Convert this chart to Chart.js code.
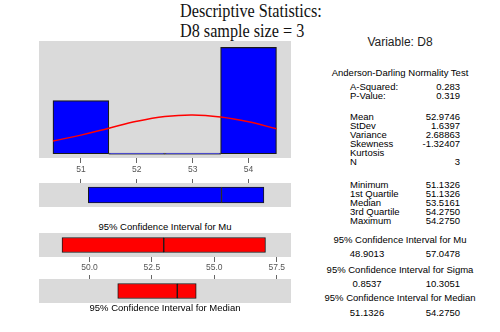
<!DOCTYPE html>
<html>
<head>
<meta charset="utf-8">
<script src="https://cdn.jsdelivr.net/npm/chart.js@4"></script>
<style>
  body { margin: 0; background: #fff; }
  #wrap { position: relative; width: 500px; height: 332px; overflow: hidden; font-family: "Liberation Sans", Arial, sans-serif; color: #000; }
  #wrap canvas { position: absolute; }
  .t { position: absolute; white-space: nowrap; font-size: 9.5px; line-height: 10px; }
  .title { position: absolute; left: 180px; font-family: "Liberation Serif", "Times New Roman", serif; font-size: 18px; line-height: 20px; color: #111; transform: scaleX(0.9); transform-origin: left top; white-space: nowrap; }
</style>
</head>
<body>
<div id="wrap">
  <div class="title" style="top:1px">Descriptive Statistics:</div>
  <div class="title" style="top:21px">D8 sample size = 3</div>
  <div class="t" style="left:340px;width:120px;top:35px;font-size:12px;line-height:14px;text-align:center;color:#222">Variable: D8</div>

  <canvas id="hist" width="252" height="138" style="left:39px;top:41px"></canvas>
  <canvas id="boxMu" width="252" height="28" style="left:39px;top:179px"></canvas>
  <div class="t" style="left:85px;width:160px;top:222px;text-align:center">95% Confidence Interval for Mu</div>
  <canvas id="ciMu" width="252" height="39" style="left:39px;top:233px"></canvas>
  <canvas id="ciMed" width="252" height="28" style="left:39px;top:275px"></canvas>
  <div class="t" style="left:85px;width:160px;top:303px;text-align:center">95% Confidence Interval for Median</div>

  <div id="stats"></div>
</div>
<script>
// histogram of D8 (bin centres and counts)
const histBins = [51, 52, 53, 54];
const histCounts = [1, 0, 0, 2];
const histTicks = [51, 52, 53, 54];

// fitted normal curve (in counts)
const curveX = [50.5, 51, 51.5, 52, 52.5, 53, 53.5, 54, 54.5];
const curveY = [0.24, 0.35, 0.48, 0.61, 0.70, 0.73, 0.69, 0.60, 0.47];

// boxes: [low, middle, high]
const quartiles = [51.1326, 53.5161, 54.2750];
const muCI = [48.9013, 52.9746, 57.0478];
const medianCI = [51.1326, 53.5161, 54.2750];
const sigmaCI = [0.8537, 10.3051];
const ciTicks = [50.0, 52.5, 55.0, 57.5];

// text table on the right
const adLabels = ['A-Squared:', 'P-Value:'];
const adValues = ['0.283', '0.319'];
const momentLabels = ['Mean', 'StDev', 'Variance', 'Skewness', 'Kurtosis', 'N'];
const momentValues = ['52.9746', '1.6397', '2.68863', '-1.32407', '', '3'];
const orderLabels = ['Minimum', '1st Quartile', 'Median', '3rd Quartile', 'Maximum'];
const orderValues = ['51.1326', '51.1326', '53.5161', '54.2750', '54.2750'];

const PANEL = '#dadada';
const TICK = '#666';

const panelBg = {
    id: 'panelBg',
    beforeDraw(chart) {
        const { ctx, chartArea: a } = chart;
        ctx.save();
        ctx.fillStyle = PANEL;
        ctx.fillRect(a.left, a.top, a.width, a.height);
        ctx.restore();
    }
};

function xAxis(min, max, tickVals, opts) {
    return {
        type: 'linear',
        position: opts.position,
        min, max,
        offset: false,
        afterBuildTicks: s => { s.ticks = tickVals.map(v => ({ value: v })); },
        afterFit: s => { s.height = opts.height; },
        ticks: {
            display: opts.labels,
            color: '#555',
            padding: opts.padding || 0,
            font: { size: 8.5, family: 'Liberation Sans, Arial, sans-serif' },
            callback: opts.fmt || (v => v)
        },
        grid: { offset: false, drawOnChartArea: false, drawTicks: true, tickLength: opts.tick, color: TICK },
        border: { display: false }
    };
}

const base = {
    responsive: false,
    animation: false,
    devicePixelRatio: 1,
    layout: { padding: 0 },
    plugins: { legend: { display: false }, tooltip: { enabled: false } }
};

// histogram + normal curve
new Chart(document.getElementById('hist'), {
    type: 'bar',
    data: {
        datasets: [
            {
                type: 'line',
                data: curveX.map((x, i) => ({ x, y: curveY[i] })),
                borderColor: '#ff0000',
                borderWidth: 1.5,
                pointRadius: 0,
                tension: 0.4,
                order: 0
            },
            {
                data: histBins.map((x, i) => ({ x, y: histCounts[i] })),
                backgroundColor: '#0000ff',
                borderColor: ['#1a1a1a', '#555', '#555', '#1a1a1a'],
                borderWidth: 1.2,
                borderSkipped: false,
                minBarLength: 1.5,
                barPercentage: 1,
                categoryPercentage: 1,
                order: 1
            }
        ]
    },
    options: {
        ...base,
        scales: {
            x: xAxis(50.25, 54.76, histTicks, { position: 'bottom', height: 21, tick: 5, labels: true, padding: 2 }),
            y: { display: false, min: -0.08, max: 2.12 }
        }
    },
    plugins: [panelBg]
});

function boxChart(id, vals, color, thick, axis) {
    const seg = (a, b) => ({
        data: [[a, b]],
        backgroundColor: color,
        borderColor: '#1a1a1a',
        borderWidth: 1,
        borderSkipped: false,
        barThickness: thick,
        grouped: false
    });
    return new Chart(document.getElementById(id), {
        type: 'bar',
        data: { labels: [''], datasets: [seg(vals[0], vals[1]), seg(vals[1], vals[2])] },
        options: {
            ...base,
            indexAxis: 'y',
            scales: { x: axis, y: { display: false } }
        },
        plugins: [panelBg]
    });
}

boxChart('boxMu', quartiles, '#0000ff', 16,
    xAxis(50.25, 54.76, histTicks, { position: 'top', height: 4, tick: 4, labels: false }));
boxChart('ciMu', muCI, '#ff0000', 15,
    xAxis(47.98, 58.07, ciTicks, { position: 'bottom', height: 15, tick: 5, labels: true, padding: 1, fmt: v => Number(v).toFixed(1) }));
boxChart('ciMed', medianCI, '#ff0000', 15,
    xAxis(47.98, 58.07, ciTicks, { position: 'top', height: 4, tick: 4, labels: false }));

// right-hand text
const stats = document.getElementById('stats');
function put(text, y, style) {
    const d = document.createElement('div');
    d.className = 't';
    d.textContent = text;
    d.style.top = (y - 5) + 'px';
    Object.assign(d.style, style);
    stats.appendChild(d);
}
const header = (text, y) => put(text, y, { left: '320px', width: '160px', textAlign: 'center' });
const row = (label, value, y) => {
    put(label, y, { left: '350px' });
    put(value, y, { left: '400px', width: '60px', textAlign: 'right' });
};
const pair = (lo, hi, y) => {
    put(lo, y, { left: '337px', width: '60px', textAlign: 'center' });
    put(hi, y, { left: '400px', width: '60px', textAlign: 'right' });
};

header('Anderson-Darling Normality Test', 73);
adLabels.forEach((l, i) => row(l, adValues[i], 87 + i * 9));
momentLabels.forEach((l, i) => row(l, momentValues[i], 117 + i * 9));
orderLabels.forEach((l, i) => row(l, orderValues[i], 185 + i * 9));
header('95% Confidence Interval for Mu', 240);
pair(muCI[0].toFixed(4), muCI[2].toFixed(4), 254);
header('95% Confidence Interval for Sigma', 269.5);
pair(sigmaCI[0].toFixed(4), sigmaCI[1].toFixed(4), 283.5);
header('95% Confidence Interval for Median', 298);
pair(medianCI[0].toFixed(4), medianCI[2].toFixed(4), 312.5);
</script>
</body>
</html>
